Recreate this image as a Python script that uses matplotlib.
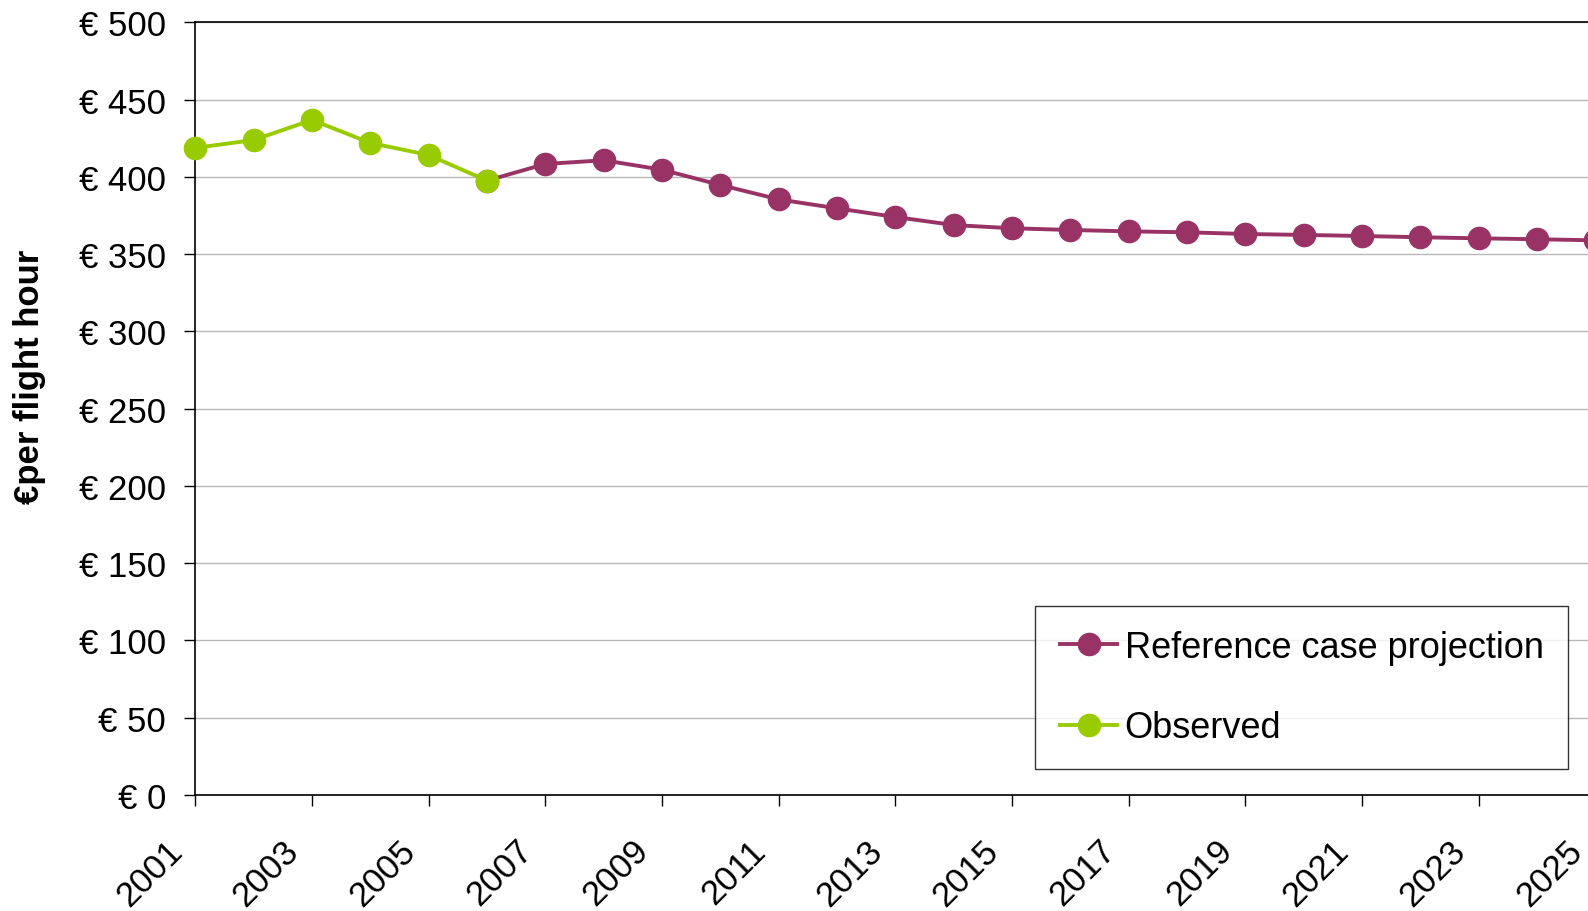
import numpy as np
import matplotlib
matplotlib.use("Agg")
import matplotlib.pyplot as plt
import matplotlib.transforms as mtransforms

plt.rcParams['font.family'] = ['Liberation Sans', 'DejaVu Sans']

# cost per flight hour, observed and projected
obs_years = [2001, 2002, 2003, 2004, 2005, 2006]
obs_cost = [418.7, 423.8, 436.8, 421.9, 414.1, 397.5]

proj_years = list(range(2006, 2026))
proj_cost = [397.5, 408.3, 410.7, 404.6, 394.7, 385.4, 379.6, 374.0, 368.8, 366.7,
             365.6, 364.7, 364.1, 363.0, 362.4, 361.7, 360.9, 360.2, 359.6, 358.9]

y_ticks = list(range(0, 501, 50))
x_ticks = list(range(2001, 2026, 2))

purple = '#993366'
green = '#99CC00'

fig = plt.figure(figsize=(15.88, 9.12), dpi=100)
# the plot area runs slightly past the right edge of the canvas
ax = fig.add_axes([0.1230, 0.1272, 0.8816, 0.8473])

ax.plot(proj_years, proj_cost, color=purple, lw=2.8, marker='o', ms=16,
        label='Reference case projection', clip_on=False, zorder=3)
ax.plot(obs_years, obs_cost, color=green, lw=2.8, marker='o', ms=16,
        label='Observed', clip_on=False, zorder=4)

ax.set_xlim(2001, 2025)
ax.set_ylim(0, 500)
ax.set_yticks(y_ticks)
ax.set_yticklabels(['€ %d' % v for v in y_ticks])
ax.set_xticks(x_ticks)
ax.set_xticklabels([str(v) for v in x_ticks], rotation=45, ha='right',
                   rotation_mode='anchor')
ax.tick_params(axis='y', labelsize=25, length=8, pad=13, width=1)
ax.tick_params(axis='x', labelsize=25, length=8, pad=11, width=1)

# push the slanted year labels down and left
shift = mtransforms.ScaledTranslation(-0.30, -0.12, fig.dpi_scale_trans)
for lbl in ax.get_xticklabels():
    lbl.set_transform(lbl.get_transform() + shift)

ax.grid(axis='y', color='#B8B8B8', lw=1)
ax.set_axisbelow(True)
for s in ['left', 'bottom', 'top']:
    ax.spines[s].set_color('black')
    ax.spines[s].set_linewidth(1.2)
ax.spines['right'].set_visible(False)

fig.text(29.5 / 1588, 1 - 377 / 912, '€per flight hour', fontsize=25,
         fontweight='bold', rotation=90, ha='center', va='center')

leg = ax.legend(loc='upper left', bbox_to_anchor=(0.6001, 0.2447), fontsize=26,
                frameon=True, fancybox=False, edgecolor='black',
                handlelength=1.6, handletextpad=0.2, labelspacing=1.25,
                borderpad=0.67, borderaxespad=0)
leg.get_frame().set_linewidth(1)

fig.savefig('out.png', dpi=100)
